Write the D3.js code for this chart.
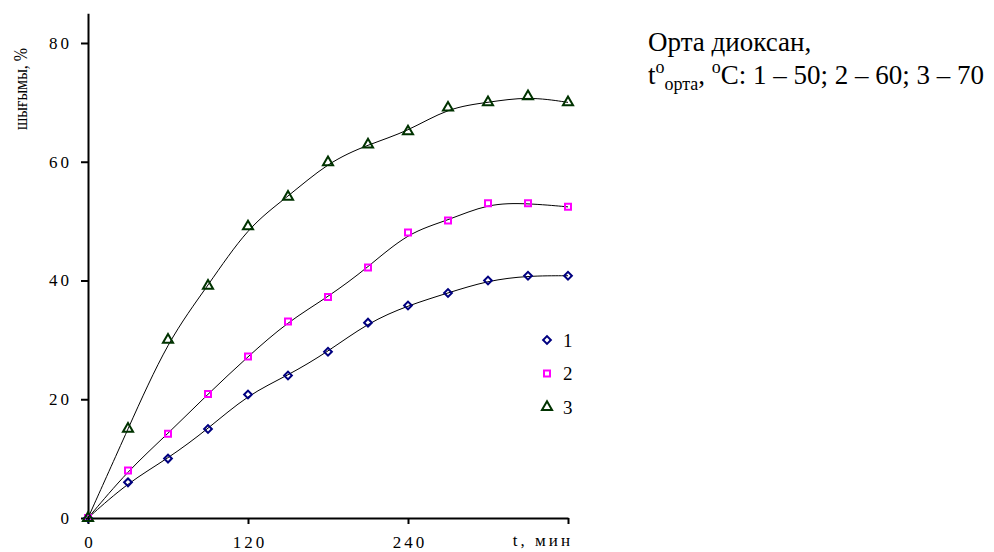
<!DOCTYPE html>
<html>
<head>
<meta charset="utf-8">
<script src="https://cdn.jsdelivr.net/npm/d3@7"></script>
<style>
  body { margin: 0; background: #fff; }
  svg { display: block; }
  svg text { font-family: "Liberation Serif", "DejaVu Serif", serif; }
</style>
</head>
<body>
<div id="chart"></div>
<script>
'use strict';

// time, min
var times = [0, 30, 60, 90, 120, 150, 180, 210, 240, 270, 300, 330, 360];
// yield, % at 50, 60, 70 °C
var series1 = [0, 6, 10, 15, 20.8, 24, 28, 32.9, 35.8, 37.9, 40, 40.8, 40.8];
var series2 = [0, 8, 14.2, 20.9, 27.2, 33.1, 37.2, 42.2, 48.1, 50.1, 53, 53, 52.4];
var series3 = [0, 15, 30, 39.1, 49.1, 54.1, 59.9, 62.9, 65.1, 69.1, 70, 71, 70];
var seriesNames = ['1', '2', '3'];
var xTicks = [0, 120, 240, 360];
var yTicks = [0, 20, 40, 60, 80];

var width = 994, height = 552;
var serif = '"Liberation Serif", "DejaVu Serif", serif';
var markerColors = ['#000080', '#ff00ff', '#003300'];

var svg = d3.select('#chart').append('svg')
    .attr('width', width)
    .attr('height', height);

var x = d3.scaleLinear().domain([0, 360]).range([88, 568]);
var y = d3.scaleLinear().domain([0, 85]).range([518, 13.3]);

// axes
var xAxis = svg.append('g')
    .attr('transform', 'translate(0,' + y(0) + ')')
    .call(d3.axisBottom(x).tickValues(xTicks).tickSize(6).tickSizeOuter(0)
        .tickFormat(function(d) { return d === 360 ? '' : d; }));
xAxis.selectAll('text')
    .attr('y', 30).attr('dy', 0).attr('dx', '1.5')
    .style('font-size', '17px').style('letter-spacing', '3px')
    .attr('fill', '#000');

var yAxis = svg.append('g')
    .attr('transform', 'translate(' + x(0) + ',0)')
    .call(d3.axisLeft(y).tickValues(yTicks).tickSize(7).tickPadding(9).tickSizeOuter(0));
yAxis.selectAll('text')
    .style('font-size', '17px').style('letter-spacing', '3px')
    .attr('fill', '#000');

svg.selectAll('g').attr('font-family', null).attr('font-size', null);
svg.selectAll('.domain, .tick line').attr('stroke', '#000').attr('stroke-width', 2);

svg.append('text')
    .attr('x', 573).attr('y', 546)
    .attr('text-anchor', 'end')
    .style('font-size', '17px').style('letter-spacing', '3px')
    .text('t, мин');

svg.append('text')
    .attr('transform', 'translate(27,89) rotate(-90)')
    .attr('text-anchor', 'middle')
    .attr('textLength', 82)
    .attr('lengthAdjust', 'spacingAndGlyphs')
    .style('font-size', '19px')
    .text('шығымы, %');

// data
var all = [series1, series2, series3].map(function(vals, i) {
    return vals.map(function(v, j) { return { t: times[j], v: v, s: i }; });
});

var line = d3.line()
    .x(function(d) { return x(d.t); })
    .y(function(d) { return y(d.v); })
    .curve(d3.curveBasis);

svg.append('g').selectAll('path').data(all).enter().append('path')
    .attr('d', line)
    .attr('fill', 'none')
    .attr('stroke', '#000')
    .attr('stroke-width', 1);

var symbols = [
    d3.symbol().type(d3.symbolSquare).size(30),
    d3.symbol().type(d3.symbolSquare).size(36),
    d3.symbol().type(d3.symbolTriangle).size(44)
];
var rot = [45, 0, 0];

function drawMarker(g, i) {
    g.append('path')
        .attr('d', symbols[i]())
        .attr('transform', 'rotate(' + rot[i] + ')')
        .attr('fill', 'none')
        .attr('stroke', markerColors[i])
        .attr('stroke-width', 2);
}

all.forEach(function(pts, i) {
    svg.append('g').selectAll('g').data(pts).enter().append('g')
        .attr('transform', function(d) { return 'translate(' + x(d.t) + ',' + y(d.v) + ')'; })
        .each(function() { drawMarker(d3.select(this), i); });
});

// legend
var legendY = d3.scalePoint().domain(seriesNames).range([340, 407]);
var legend = svg.append('g').selectAll('g').data(seriesNames).enter().append('g')
    .attr('transform', function(d) { return 'translate(547,' + legendY(d) + ')'; });
legend.each(function(d, i) { drawMarker(d3.select(this), i); });
legend.append('text')
    .attr('x', 16).attr('dy', '0.35em')
    .style('font-size', '19px')
    .text(function(d) { return d; });

// annotation
svg.append('text')
    .attr('x', 648).attr('y', 51)
    .style('font-size', '27px')
    .text('Орта диоксан,');
var l2 = svg.append('text')
    .attr('x', 648).attr('y', 84)
    .style('font-size', '27px');
l2.append('tspan').text('t');
l2.append('tspan').attr('dy', -11).style('font-size', '18px').text('o');
l2.append('tspan').attr('dy', 17).style('font-size', '18px').text('орта');
l2.append('tspan').attr('dy', -6).text(', ');
l2.append('tspan').attr('dy', -11).style('font-size', '18px').text('o');
l2.append('tspan').attr('dy', 11).text('C: 1 – 50; 2 – 60; 3 – 70');

svg.selectAll('text').style('font-family', serif);
</script>
</body>
</html>
